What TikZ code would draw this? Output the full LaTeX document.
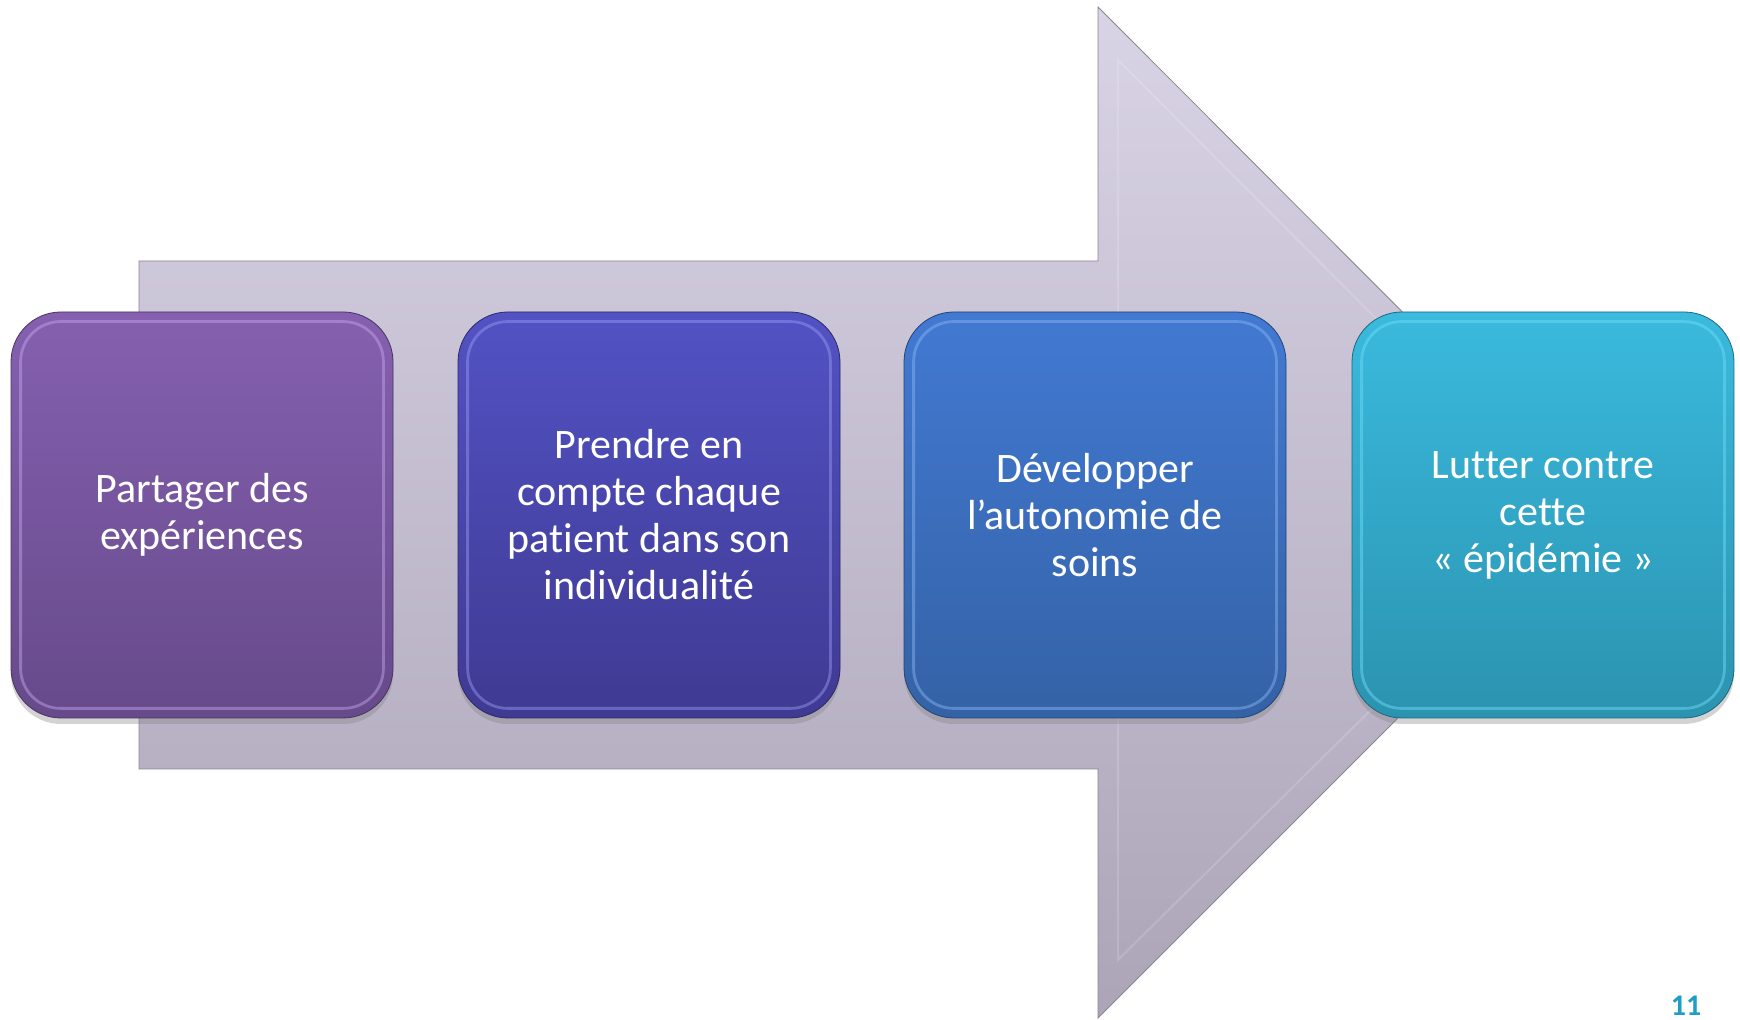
\documentclass[tikz,border=0pt]{standalone}
\usepackage{fontspec}
\setmainfont[Ligatures=NoCommon]{Carlito}
\usetikzlibrary{shadows}

\definecolor{arrtop}{HTML}{D9D3E6}
\definecolor{arrbot}{HTML}{ACA5B8}
\definecolor{vioTop}{HTML}{8560B0}
\definecolor{vioBot}{HTML}{664A8A}
\definecolor{vioRim}{HTML}{C8A8F0}
\definecolor{indTop}{HTML}{5252C4}
\definecolor{indBot}{HTML}{3F3A92}
\definecolor{indRim}{HTML}{9C9CF4}
\definecolor{bluTop}{HTML}{4279D2}
\definecolor{bluBot}{HTML}{3462A6}
\definecolor{bluRim}{HTML}{8CB8F4}
\definecolor{cyaTop}{HTML}{3ABADE}
\definecolor{cyaBot}{HTML}{2B93B0}
\definecolor{cyaRim}{HTML}{70E0FA}
\definecolor{pagenum}{HTML}{1E9DC8}

\begin{document}
\begin{tikzpicture}[x=0.5pt,y=0.5pt,
    stepbox/.style={rounded corners=25pt, minimum width=191pt, minimum height=203pt,
        align=center, text=white, font=\fontsize{21}{23.5}\selectfont,
        drop shadow={opacity=0.35, shadow xshift=0pt, shadow yshift=-3pt}},
    rim/.style={rounded corners=20pt, line width=1.4pt, opacity=0.45}]

\useasboundingbox (0,0) rectangle (1740,1020);

% big arrow behind the boxes
\path [top color=arrtop, bottom color=arrbot, draw=arrbot!80!black, line width=0.4pt]
    (139,759) -- (1098,759) -- (1098,1013) -- (1603,507) -- (1098,2) -- (1098,251) -- (139,251) -- cycle;
\draw [white, opacity=0.15, line width=1pt]
    (1118,960) -- (1118,60) -- (1570,507) -- cycle;

\node (share) [stepbox, top color=vioTop, bottom color=vioBot, draw=vioBot!70!black] at (202,505)
    {Partager des\\expériences};
\node (care) [stepbox, top color=indTop, bottom color=indBot, draw=indBot!70!black] at (649,505)
    {Prendre en\\compte chaque\\patient dans son\\individualité};
\node (auto) [stepbox, top color=bluTop, bottom color=bluBot, draw=bluBot!70!black] at (1095,505)
    {Développer\\l’autonomie de\\soins};
\node (fight) [stepbox, top color=cyaTop, bottom color=cyaBot, draw=cyaBot!70!black] at (1543,505)
    {Lutter contre\\cette\\«~épidémie~»};

% glossy inner rims
\foreach \b/\c in {share/vioRim, care/indRim, auto/bluRim, fight/cyaRim}
    \draw [rim, draw=\c] ([shift={(5pt,5pt)}]\b.south west) rectangle ([shift={(-5pt,-5pt)}]\b.north east);

\node (page) at (1686,4) [anchor=base, text=pagenum, font=\fontsize{15}{15}\selectfont\bfseries] {11};

\end{tikzpicture}
\end{document}
